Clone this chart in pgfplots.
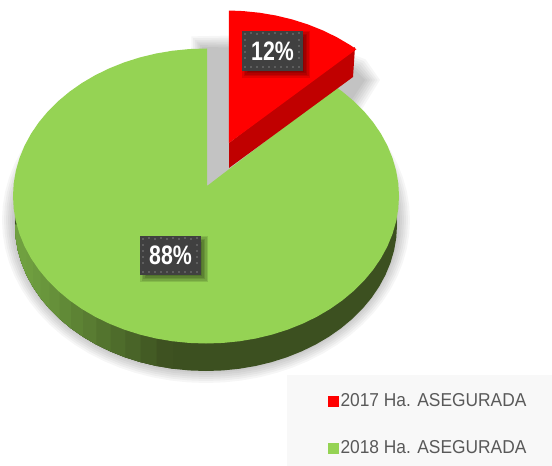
\documentclass[border=0pt]{standalone}
\usepackage{pgfplots}
\usepackage{pgfplotstable}
\usepackage{fontspec}
\pgfplotsset{compat=1.18}
\setmainfont{Liberation Sans}
\newfontfamily\legfont[FakeStretch=0.93]{Liberation Sans}
\newfontfamily\labfont[FakeStretch=0.8]{Liberation Sans}
\definecolor{pgreen}{HTML}{95D354}
\definecolor{pred}{HTML}{FF0000}
\definecolor{predside}{HTML}{C00000}
\definecolor{sideD}{HTML}{3C5020}
\definecolor{sideL}{HTML}{70A040}
\definecolor{legbg}{HTML}{F8F8F8}
\definecolor{labbg}{HTML}{404040}
\definecolor{labdot}{HTML}{5E5E5E}
\definecolor{legtxt}{HTML}{595959}
% unit ellipse, angle t clockwise from the top; rows 0.5 and 1000 are the wedge apexes
\pgfplotstableread{
t s c
0.5 0.0155 0.1017
0.9 0.0155 0.9999
5 0.0872 0.9962
10 0.1736 0.9848
15 0.2588 0.9659
20 0.3420 0.9397
25 0.4226 0.9063
30 0.5000 0.8660
35 0.5736 0.8192
40 0.6428 0.7660
42.5 0.6756 0.7373
1000 0.0052 0.0678
42.6 0.6756 0.7373
45 0.7071 0.7071
50 0.7660 0.6428
55 0.8192 0.5736
60 0.8660 0.5000
65 0.9063 0.4226
70 0.9397 0.3420
75 0.9659 0.2588
80 0.9848 0.1736
85 0.9962 0.0872
90 1.0000 0
95 0.9962 -0.0872
100 0.9848 -0.1736
105 0.9659 -0.2588
110 0.9397 -0.3420
115 0.9063 -0.4226
120 0.8660 -0.5000
125 0.8192 -0.5736
130 0.7660 -0.6428
135 0.7071 -0.7071
140 0.6428 -0.7660
145 0.5736 -0.8192
150 0.5000 -0.8660
155 0.4226 -0.9063
160 0.3420 -0.9397
165 0.2588 -0.9659
170 0.1736 -0.9848
175 0.0872 -0.9962
180 0 -1.0000
185 -0.0872 -0.9962
190 -0.1736 -0.9848
195 -0.2588 -0.9659
200 -0.3420 -0.9397
205 -0.4226 -0.9063
210 -0.5000 -0.8660
215 -0.5736 -0.8192
220 -0.6428 -0.7660
225 -0.7071 -0.7071
230 -0.7660 -0.6428
235 -0.8192 -0.5736
240 -0.8660 -0.5000
245 -0.9063 -0.4226
250 -0.9397 -0.3420
255 -0.9659 -0.2588
260 -0.9848 -0.1736
265 -0.9962 -0.0872
270 -1.0000 0
275 -0.9962 0.0872
280 -0.9848 0.1736
285 -0.9659 0.2588
290 -0.9397 0.3420
295 -0.9063 0.4226
300 -0.8660 0.5000
305 -0.8192 0.5736
310 -0.7660 0.6428
315 -0.7071 0.7071
320 -0.6428 0.7660
325 -0.5736 0.8192
330 -0.5000 0.8660
335 -0.4226 0.9063
340 -0.3420 0.9397
345 -0.2588 0.9659
350 -0.1736 0.9848
355 -0.0872 0.9962
360 0.0052 1.0000
}\ell
% soft shadow outline of the raised slice, with outward normals
\pgfplotstableread{
x y nx ny
197 210 -1 0
197 42 -0.7 -0.7
300 42 0 -1
360 65 0.7 -0.7
372 80 1 0
340 130 0.7 0.7
197 210 -1 0
}\redshadow
\pgfplotstableread{
x y nx ny
143 239 -1 -1
205 239 1 -1
205 279 1 1
143 279 -1 1
}\labAshadow
\pgfplotstableread{
x y nx ny
245 34 -1 -1
307 34 1 -1
307 75 1 1
245 75 -1 1
}\labBshadow
% dot lattice of the label boxes, relative to the box corner (the part clear of the digits)
\pgfplotstableread{
x y
3 3
9 2
15 3
21 2
27 3
33 2
39 3
45 2
51 3
57 2
3 9
57 9
3 15
57 15
3 21
57 21
3 27
57 27
3 36
9 36
15 36
21 36
27 36
33 36
39 36
45 36
51 36
57 36
}\dots
% one colour band of the side wall: start angle, share of the light colour, x of the start
\newcommand\band[3]{%
  \addplot[forget plot, draw=none, fill={sideL!#2!sideD},
    restrict expr to domain={\thisrow{t}}{#1:275.5}]
    table[x expr={ifthenelse(\thisrow{t}>272,#3,206+191*\thisrow{s})},
          y expr={ifthenelse(\thisrow{t}>272,225,225-146*\thisrow{c})}] {\ell};
}
\begin{document}
\begin{tikzpicture}[x=1pt,y=1pt]
\begin{axis}[
  scale only axis, width=414pt, height=349.5pt,
  xmin=0, xmax=552, ymin=0, ymax=466, y dir=reverse,
  hide axis,
  unbounded coords=discard,
  legend cell align=left,
  legend image code/.code={\fill[#1] (-2.2pt,-4.1pt) rectangle (6pt,4.1pt);},
  legend style={at={(axis cs:528,457.5)}, anchor=south east, draw=none, fill=none,
    font=\legfont\fontsize{14}{16}\selectfont, text=legtxt,
    inner xsep=0pt, inner ysep=0pt,
    row sep=22pt,
    nodes={inner sep=1pt}},
]
% page background
\addplot[forget plot, draw=none, fill=white] coordinates {(0,0) (552,0) (552,466) (0,466)};
% shadow of the whole pie
\pgfplotsinvokeforeach{-8,-6,-4,-2,0,2,4,6,8}{
  \addplot[forget plot, draw=none, fill=black, fill opacity=0.035,
    restrict expr to domain={\thisrow{t}}{0.7:360.5}]
    table[x expr={206+(196+#1)*\thisrow{s}}, y expr={220-(155+#1)*\thisrow{c}}] {\ell};
}
% the gap above the large slice keeps only the raised slice's shadow
\addplot[forget plot, draw=none, fill=white] coordinates {(200,0) (420,0) (420,130) (207,186) (200,186)};
% soft shadow of the raised slice
\pgfplotsinvokeforeach{-7,-4.5,-2,0.5,3,5.5,8}{
  \addplot[forget plot, draw=none, fill=black, fill opacity=0.034]
    table[x expr={\thisrow{x}+(#1)*\thisrow{nx}}, y expr={\thisrow{y}+(#1)*\thisrow{ny}}] {\redshadow};
}
% side wall of the large slice: dark base, then lighter towards the left
\addplot[forget plot, draw=none, fill=sideD,
  restrict expr to domain={\thisrow{t}}{80:280}]
  table[x expr={206+191*\thisrow{s}}, y expr={225-146*\thisrow{c}}] {\ell};
\band{190}{3}{172.8}
\band{195}{14}{156.6}
\band{200}{25}{140.7}
\band{205}{35}{125.3}
\band{210}{45}{110.5}
\band{215}{55}{96.4}
\band{220}{64}{83.2}
\band{225}{72}{71}
\band{230}{80}{59.7}
\band{235}{87}{49.5}
\band{240}{93}{40.6}
\band{245}{98}{32.9}
\band{250}{100}{26.5}
% top of the large slice
\addplot[forget plot, draw=none, fill=pgreen,
  restrict expr to domain={\thisrow{t}}{42.55:1001}]
  table[x expr={206+193*\thisrow{s}}, y expr={196-147.5*\thisrow{c}}] {\ell};
% raised slice
\addplot[forget plot, draw=none, fill=predside] coordinates {(229,143) (229,168) (353,77) (355,47)};
\addplot[forget plot, draw=none, fill=pred,
  restrict expr to domain={\thisrow{t}}{0.4:42.55}]
  table[x expr={226+193*\thisrow{s}}, y expr={158-147.5*\thisrow{c}}] {\ell};
% data labels
\pgfplotsinvokeforeach{-3,-1.5,0,1.5,3}{
  \addplot[forget plot, draw=none, fill=black, fill opacity=0.11]
    table[x expr={\thisrow{x}+(#1)*\thisrow{nx}}, y expr={\thisrow{y}+(#1)*\thisrow{ny}}] {\labAshadow};
  \addplot[forget plot, draw=none, fill=black, fill opacity=0.11]
    table[x expr={\thisrow{x}+(#1)*\thisrow{nx}}, y expr={\thisrow{y}+(#1)*\thisrow{ny}}] {\labBshadow};
}
\addplot[forget plot, draw=none, fill=labbg] coordinates {(140,236) (201,236) (201,275) (140,275)};
\addplot[forget plot, draw=none, fill=labbg] coordinates {(242,31) (303,31) (303,71) (242,71)};
\addplot[forget plot, only marks, color=labdot, mark=square*, mark size=0.55pt, mark options={draw=labdot, fill=labdot, line width=0pt}]
  table[x expr={140+\thisrow{x}}, y expr={236+\thisrow{y}}] {\dots};
\addplot[forget plot, only marks, color=labdot, mark=square*, mark size=0.55pt, mark options={draw=labdot, fill=labdot, line width=0pt}]
  table[x expr={242+\thisrow{x}}, y expr={31+\thisrow{y}}] {\dots};
\node[text=white, font=\labfont\bfseries\fontsize{20}{22}\selectfont] at (axis cs:170.5,255.5) {88\%};
\node[text=white, font=\labfont\bfseries\fontsize{20}{22}\selectfont] at (axis cs:272.5,51) {12\%};
% legend panel
\addplot[forget plot, draw=none, fill=legbg] coordinates {(287,375) (552,375) (552,466) (287,466)};
\addlegendimage{fill=pred, draw=none}
\addlegendentry{2017 Ha. ASEGURADA}
\addlegendimage{fill=pgreen, draw=none}
\addlegendentry{2018 Ha. ASEGURADA}
\end{axis}
\end{tikzpicture}
\end{document}
